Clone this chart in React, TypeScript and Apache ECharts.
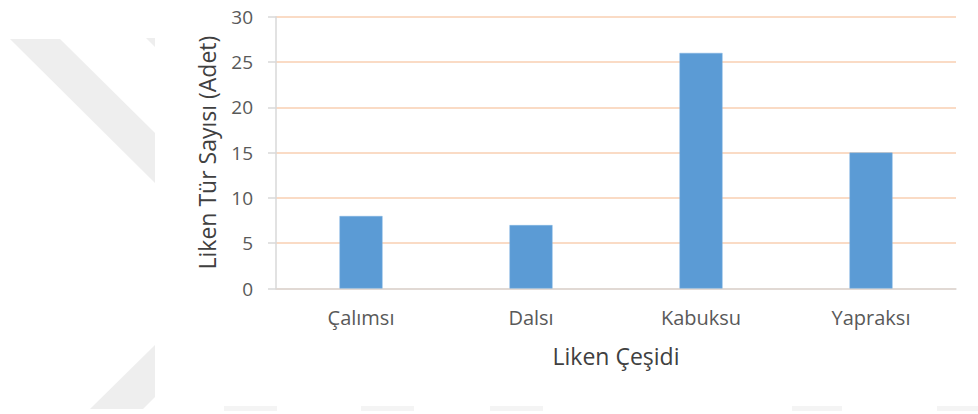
import React, { useEffect, useRef } from "react";
import * as echarts from "echarts";

const categories = ["Çalımsı", "Dalsı", "Kabuksu", "Yapraksı"];
const values = [8, 7, 26, 15];
const yTicks = { min: 0, max: 30, interval: 5 };
const xAxisName = "Liken Çeşidi";
const yAxisName = "Liken Tür Sayısı (Adet)";

export default function App() {
  const ref = useRef<HTMLDivElement>(null);
  useEffect(() => {
    document.body.style.margin = "0";
    const chart = echarts.init(ref.current!, null, { renderer: "svg" });
    const wm = "#eeeeee";
    const wm2 = "#f4f4f4";
    chart.setOption({
      animation: false,
      backgroundColor: "#ffffff",
      textStyle: { fontFamily: "Open Sans" },
      graphic: [
        { type: "polygon", z: -10, shape: { points: [[10, 39], [60, 39], [155, 133], [155, 183]] }, style: { fill: wm } },
        { type: "polygon", z: -10, shape: { points: [[146, 38], [155, 38], [155, 47]] }, style: { fill: wm } },
        { type: "polygon", z: -10, shape: { points: [[90, 409], [143, 409], [155, 397], [155, 345]] }, style: { fill: wm } },
        { type: "rect", z: -10, shape: { x: 224, y: 406, width: 53, height: 5 }, style: { fill: wm2 } },
        { type: "rect", z: -10, shape: { x: 361, y: 406, width: 53, height: 5 }, style: { fill: wm2 } },
        { type: "rect", z: -10, shape: { x: 490, y: 406, width: 53, height: 5 }, style: { fill: wm2 } },
        { type: "rect", z: -10, shape: { x: 792, y: 406, width: 50, height: 5 }, style: { fill: wm2 } },
        { type: "rect", z: -10, shape: { x: 937, y: 406, width: 41, height: 5 }, style: { fill: wm2 } },
      ],
      grid: { left: 276, right: 22, top: 16.7, bottom: 125.5, containLabel: false },
      xAxis: {
        type: "category",
        data: categories,
        name: xAxisName,
        nameLocation: "middle",
        nameGap: 56,
        nameTextStyle: { fontSize: 23, color: "#404040", fontFamily: "Open Sans" },
        axisLine: { lineStyle: { color: "#d9d9d9", width: 1.5 } },
        axisTick: { show: false },
        axisLabel: { fontSize: 20, color: "#595959", margin: 19, fontFamily: "Open Sans" },
      },
      yAxis: {
        type: "value",
        min: yTicks.min,
        max: yTicks.max,
        interval: yTicks.interval,
        name: yAxisName,
        nameLocation: "middle",
        nameGap: 58,
        nameTextStyle: { fontSize: 23, color: "#404040", fontFamily: "Open Sans" },
        axisLine: { show: true, lineStyle: { color: "#d9d9d9", width: 1.5 } },
        axisTick: { show: true, length: 8, lineStyle: { color: "#d9d9d9", width: 1.5 } },
        axisLabel: { fontSize: 19, color: "#595959", margin: 23, fontFamily: "Open Sans" },
        splitLine: { show: true, lineStyle: { color: "#f8cfb2", width: 1.5 } },
      },
      series: [
        {
          type: "bar",
          data: values,
          barWidth: 43,
          itemStyle: { color: "#5b9bd5", borderColor: "#7fb2e0", borderWidth: 0.5 },
        },
      ],
    });
    return () => chart.dispose();
  }, []);
  return <div ref={ref} style={{ width: 978, height: 414 }} />;
}
